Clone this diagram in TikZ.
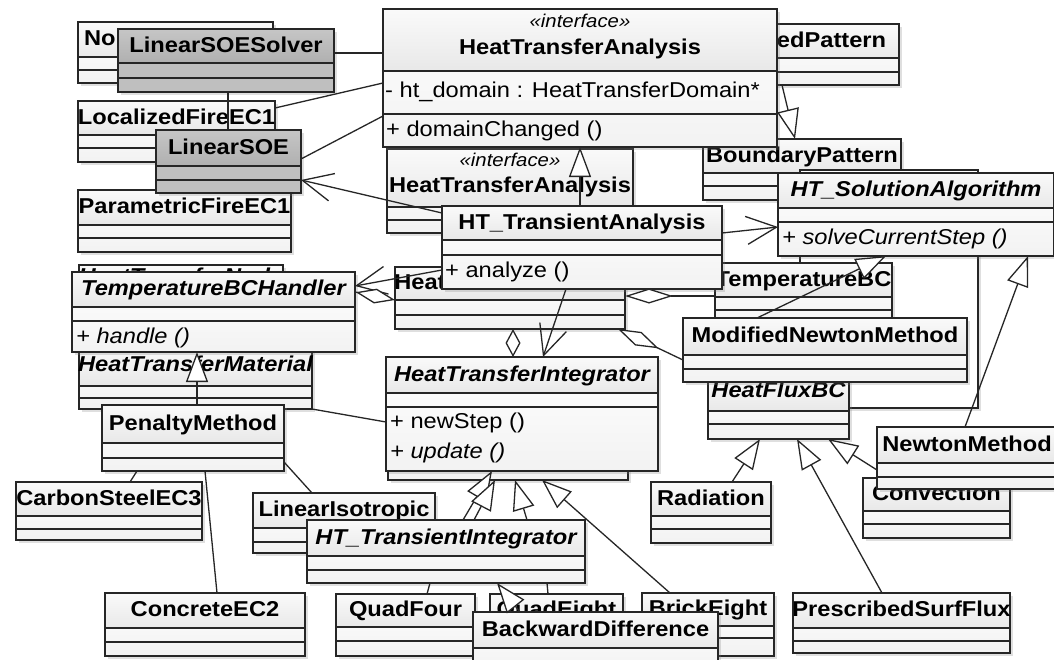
\documentclass[tikz,border=0pt]{standalone}
\usepackage{fontspec}
\setmainfont{Liberation Sans}[FakeStretch=1.1]
\usetikzlibrary{arrows.meta,shadows,positioning}

\tikzset{
  boxline/.style={line width=1.3pt,draw=black!85},
  umlbox/.style={rectangle,draw=black!85,line width=1.3pt,anchor=north west,inner sep=0pt,outer sep=0pt,
    drop shadow={shadow xshift=3pt,shadow yshift=-3pt,opacity=.25}},
  plain box/.style={top color=white,bottom color=gray!10},
  plain title/.style={top color=gray!4,bottom color=gray!18},
  grey box/.style={fill=gray!50},
  grey title/.style={top color=gray!45,bottom color=gray!62},
  blank box/.style={fill=white},
  blank title/.style={top color=white,bottom color=white},
  cname/.style={font=\bfseries\fontsize{21.5}{24}\selectfont,text height=15.5pt,text depth=3pt,inner sep=0pt},
  aname/.style={cname,font=\bfseries\itshape\fontsize{21.5}{24}\selectfont},
  stereo/.style={font=\itshape\fontsize{18.5}{20}\selectfont,inner sep=0pt},
  member/.style={font=\fontsize{21.5}{24}\selectfont,anchor=base west,inner sep=0pt},
  amember/.style={member,font=\itshape\fontsize{21.5}{24}\selectfont},
  conn/.style={line width=1.3pt,draw=black!85},
  gen/.style={conn,-{Triangle[fill=white,length=30pt,width=22pt]}},
  nav/.style={conn,-{Straight Barb[length=30pt,width=28pt]}},
  agg/.style={conn,{Diamond[fill=white,length=#1,width=15pt]}-},
  agg/.default=30pt,
}

% \umlbox[look]{name}{x,y}{width}{title h}{attr h}{total h}
\newcommand{\umlbox}[7][plain]{%
  \node[umlbox,#1 box,minimum width=#4pt,minimum height=#7pt] (#2) at (#3) {};
  \shade[#1 title] (#2.north west) rectangle ([yshift=-#5pt]#2.north east);
  \draw[boxline] ([yshift=-#5pt]#2.north west) -- ([yshift=-#5pt]#2.north east)
    ([yshift=-#5pt-#6pt]#2.north west) -- ([yshift=-#5pt-#6pt]#2.north east);
  \draw[boxline] (#2.north west) rectangle (#2.south east);
  \coordinate (#2-t) at ([yshift=-#5pt/2]#2.north);
  \coordinate (#2-m) at ([yshift=-#5pt-#6pt]#2.north west);
}

\begin{document}
\begin{tikzpicture}[x=1pt,y=-1pt]
  \useasboundingbox[fill=white] (0,0) rectangle (1054,659);

  \umlbox{firepat}{651,24}{248}{34}{14}{61}
  \node[cname] at (firepat-t) {FireImposedPattern};
  \umlbox{bpattern}{703,139}{198}{34}{13}{61}
  \node[cname] at (bpattern-t) {BoundaryPattern};
  \umlbox[blank]{solhid}{800,170}{178}{34}{13}{238}

  \umlbox{hta2}{387,149}{246}{58}{13}{84}
  \node[stereo] at ([yshift=18pt]hta2-t) {«interface»};
  \node[cname] at ([yshift=-8pt]hta2-t) {HeatTransferAnalysis};
  \umlbox{htdomain}{395,267}{230}{33}{15}{62}
  \node[cname] at (htdomain-t) {HeatTransferDomain};
  \umlbox{tbc}{715,263}{177}{34}{13}{60}
  \node[cname] at (tbc-t) {TemperatureBC};
  \umlbox{hfbc}{708,378}{141}{33}{13}{61}
  \node[aname] at ([yshift=3pt]hfbc-t) {HeatFluxBC};
  \umlbox{mnewton}{683,318}{284}{37}{14}{64}
  \node[cname] at (mnewton-t) {ModifiedNewtonMethod};
  \umlbox{htsol}{778,173}{276}{35}{14}{83}
  \node[aname] at (htsol-t) {HT\_SolutionAlgorithm};
  \node[amember] at ([xshift=4pt,yshift=-22pt]htsol-m) {+ solveCurrentStep ()};

  \umlbox{hta}{383,9}{394}{62}{43}{138}
  \node[stereo] at ([yshift=19pt]hta-t) {«interface»};
  \node[cname] at ([yshift=-8pt]hta-t) {HeatTransferAnalysis};
  \node[member] at ([xshift=2pt,yshift=17pt]hta-m) {- ht\_domain : HeatTransferDomain*};
  \node[member] at ([xshift=3pt,yshift=-22pt]hta-m) {+ domainChanged ()};
  \umlbox{htanal}{442,206}{280}{34}{15}{83}
  \node[cname] at (htanal-t) {HT\_TransientAnalysis};
  \node[member] at ([xshift=3pt,yshift=-22pt]htanal-m) {+ analyze ()};

  \umlbox{nonloc}{78,22}{195}{35}{13}{61}
  \node[cname] at (nonloc-t) {NominalFireEC1};
  \umlbox[grey]{lsolver}{118,29}{216}{34}{15}{63}
  \node[cname] at (lsolver-t) {LinearSOESolver};
  \umlbox{locfire}{78,101}{197}{34}{13}{61}
  \node[cname] at (locfire-t) {LocalizedFireEC1};
  \umlbox{parfire}{78,190}{213}{35}{13}{62}
  \node[cname] at (parfire-t) {ParametricFireEC1};
  \umlbox[grey]{lsoe}{156,130}{145}{36}{14}{63}
  \node[cname] at (lsoe-t) {LinearSOE};

  \umlbox{htnode}{79,265}{204}{35}{13}{60}
  \node[aname] at ([yshift=5pt]htnode-t) {HeatTransferNode};
  \umlbox{htmat}{79,345}{233}{41}{12}{64}
  \node[aname] at (htmat-t) {HeatTransferMaterial};
  \umlbox{handler}{72,272}{283}{35}{14}{80}
  \node[aname] at (handler-t) {TemperatureBCHandler};
  \node[amember] at ([xshift=4pt,yshift=-22pt]handler-m) {+ handle ()};
  \umlbox{penalty}{102,405}{182}{38}{15}{66}
  \node[cname] at (penalty-t) {PenaltyMethod};
  \umlbox{carbon}{16,482}{186}{34}{13}{58}
  \node[cname] at (carbon-t) {CarbonSteelEC3};
  \umlbox{concrete}{105,593}{200}{35}{14}{63}
  \node[cname] at (concrete-t) {ConcreteEC2};
  \umlbox{linear}{253,493}{182}{35}{14}{60}
  \node[cname] at (linear-t) {LinearIsotropic};

  \umlbox{intshadow}{388,380}{240}{34}{13}{100}
  \umlbox{htint}{386,357}{272}{36}{14}{114}
  \node[aname] at (htint-t) {HeatTransferIntegrator};
  \node[member] at ([xshift=4pt,yshift=-21pt]htint-m) {+ newStep ()};
  \node[amember] at ([xshift=4pt,yshift=-51pt]htint-m) {+ update ()};
  \umlbox{trint}{307,520}{278}{36}{14}{63}
  \node[aname] at (trint-t) {HT\_TransientIntegrator};
  \umlbox{quadfour}{336,594}{139}{33}{14}{62}
  \node[cname] at (quadfour-t) {QuadFour};
  \umlbox{quadeight}{490,594}{133}{33}{14}{62}
  \node[cname] at (quadeight-t) {QuadEight};
  \umlbox{brickeight}{642,593}{132}{33}{12}{63}
  \node[cname] at (brickeight-t) {BrickEight};
  \umlbox{backdiff}{473,612}{245}{36}{14}{60}
  \node[cname] at (backdiff-t) {BackwardDifference};

  \umlbox{radiation}{651,482}{120}{34}{13}{61}
  \node[cname] at (radiation-t) {Radiation};
  \umlbox{convection}{863,478}{147}{33}{13}{60}
  \node[cname] at (convection-t) {Convection};
  \umlbox{prescr}{793,593}{217}{35}{13}{60}
  \node[cname] at (prescr-t) {PrescribedSurfFlux};
  \umlbox{newton}{877,427}{180}{36}{14}{62}
  \node[cname] at (newton-t) {NewtonMethod};

  \draw[conn] ([yshift=-24pt]lsolver.north east) -- ([yshift=-44pt]hta.north west);
  \draw[conn] ([xshift=110pt]lsolver.south west) -- ([xshift=72pt]lsoe.north west);
  \draw[conn] ([yshift=-7pt]locfire.north east) -- ([yshift=-74pt]hta.north west);
  \draw[conn] ([yshift=-29pt]lsoe.north east) -- ([yshift=-107pt]hta.north west);
  \draw[nav] ([yshift=-7pt]htanal.north west) -- ([yshift=-50pt]lsoe.north east);
  \draw[gen] ([xshift=138pt]htanal.north west) -- ([xshift=197pt]hta.south west);
  \draw[nav] ([yshift=-27pt]htanal.north east) -- ([yshift=-54pt]htsol.north west);
  \draw[nav] ([xshift=124pt]htanal.south west) -- ([xshift=157pt]htint.north west);
  \draw[agg=28pt] ([xshift=118pt]htdomain.south west) -- ([xshift=127pt]htint.north west);
  \draw[agg=48pt] ([yshift=-29pt]htdomain.north east) -- ([yshift=-33pt]tbc.north west);
  \draw[agg=45pt] ([xshift=-7pt]htdomain.south east) -- ([yshift=-42pt]mnewton.north west);
  \draw[nav] ([yshift=-64pt]htanal.north west) -- ([yshift=-14pt]handler.north east);
  \draw[agg=40pt] ([yshift=-33pt]htdomain.north west) -- ([yshift=-20pt]handler.north east);
  \draw[gen] ([xshift=95pt]penalty.north west) -- ([xshift=125pt]handler.south west);
  \draw[conn] (htmat.south east) -- ([yshift=-65pt]htint.north west);
  \draw[conn] ([xshift=35pt]penalty.south west) -- ([xshift=114pt]carbon.north west);
  \draw[conn] ([xshift=103pt]penalty.south west) -- ([xshift=112pt]concrete.north west);
  \draw[conn] ([yshift=9pt]penalty.south east) -- ([xshift=59pt]linear.north west);
  \draw[gen] ([xshift=156pt]trint.north west) -- ([xshift=106pt]htint.south west);
  \draw[gen] ([xshift=167pt]trint.north west) -- ([xshift=107pt]intshadow.south west);
  \draw[gen] ([xshift=220pt]trint.north west) -- ([xshift=127pt]intshadow.south west);
  \draw[gen] ([xshift=28pt]brickeight.north west) -- ([xshift=154pt]intshadow.south west);
  \draw[conn] ([xshift=123pt]trint.south west) -- ([xshift=91pt]quadfour.north west);
  \draw[conn] ([xshift=240pt]trint.south west) -- ([xshift=58pt]quadeight.north west);
  \draw[gen] ([xshift=47pt]backdiff.north west) -- ([xshift=190pt]trint.south west);
  \draw[gen] ([xshift=81pt]radiation.north west) -- ([xshift=52pt]hfbc.south west);
  \draw[gen] ([xshift=89pt]prescr.north west) -- ([xshift=89pt]hfbc.south west);
  \draw[gen] ([yshift=-43pt]newton.north west) -- ([xshift=120pt]hfbc.south west);
  \draw[gen] ([xshift=88pt]newton.north west) -- ([xshift=250pt]htsol.south west);
  \draw[gen] ([xshift=74pt]mnewton.north west) -- ([xshift=108pt]htsol.south west);
  \draw[gen] ([xshift=131pt]firepat.south west) -- ([xshift=92pt]bpattern.north west);
\end{tikzpicture}
\end{document}
